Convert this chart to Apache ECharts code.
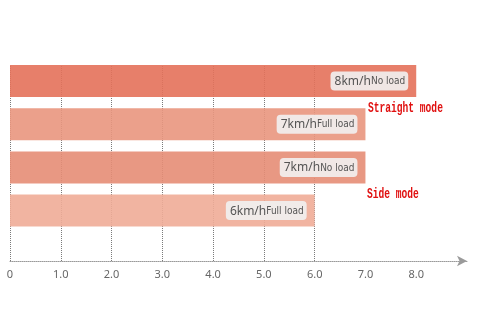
<!DOCTYPE html>
<html><head><meta charset="utf-8">
<script src="https://cdn.jsdelivr.net/npm/echarts@6/dist/echarts.min.js"></script>
<style>html,body{margin:0;padding:0;background:#fff}#c{width:480px;height:331px}</style>
</head><body><div id="c"></div>
<script>
const categories = ['8km/h No load', '7km/h Full load', '7km/h No load', '6km/h Full load'];
const speeds = [8, 7, 7, 6];
const speedLabels = ['8km/h', '7km/h', '7km/h', '6km/h'];
const loadLabels = ['No load', 'Full load', 'No load', 'Full load'];
const barColors = ['#e4715a', '#e9967e', '#e68d76', '#efac97'];
const gridValues = [0, 1, 2, 3, 4, 5, 6];
const modeLabels = ['Straight mode', 'Side mode'];

const chart = echarts.init(document.getElementById('c'), null, {renderer: 'canvas'});
chart.setOption({
  animation: false,
  grid: [
    {left: 10, right: 13, top: 65, bottom: 70},
    {left: 10, right: 13, top: 59.5, height: 172.7}
  ],
  xAxis: [
    {
      gridIndex: 0, type: 'value', min: 0, max: 9, interval: 1,
      axisLine: {show: true, symbol: ['none', 'arrow'], symbolSize: [8, 10], symbolOffset: [0, 0],
        lineStyle: {color: '#9a9a9a', type: 'dotted', width: 1}},
      axisTick: {show: false},
      splitLine: {show: false},
      axisLabel: {
        color: '#666', fontSize: 11, margin: 8, fontFamily: 'Noto Sans',
        formatter: v => v === 0 ? '0' : (v > 8 ? '' : v.toFixed(1))
      }
    },
    {
      gridIndex: 1, type: 'value', min: 0, max: 9,
      show: false, splitLine: {show: false}
    }
  ],
  yAxis: [
    {gridIndex: 0, type: 'value', min: 0, max: 1, show: false, splitLine: {show: false}},
    {gridIndex: 1, type: 'category', data: categories, inverse: true, show: false}
  ],
  series: [
    {
      type: 'line', xAxisIndex: 0, yAxisIndex: 0, data: [], z: 1, silent: true,
      markLine: {
        z: 1, silent: true, symbol: ['none', 'none'], label: {show: false},
        lineStyle: {color: '#7a7a7a', type: 'dotted', width: 1},
        emphasis: {disabled: true},
        data: gridValues.map(v => ({xAxis: v}))
      }
    },
    {
      type: 'bar', xAxisIndex: 1, yAxisIndex: 1, barWidth: 32, z: 3,
      data: speeds.map((v, i) => ({value: v, itemStyle: {color: barColors[i], opacity: 0.9}})),
      label: {
        show: true, position: 'insideRight', distance: 8,
        backgroundColor: '#f2f2f2', borderRadius: 4, padding: [2, 3, 1, 4],
        formatter: p => '{a|' + speedLabels[p.dataIndex] + '}{b|' + loadLabels[p.dataIndex] + '}',
        rich: {
          a: {fontSize: 12, color: '#444', fontFamily: 'Noto Sans', lineHeight: 16},
          b: {fontSize: 10, color: '#444', fontFamily: 'DejaVu Sans Condensed', lineHeight: 16}
        }
      }
    }
  ],
  graphic: [
    {type: 'text', x: 368, y: 101, scaleX: 0.8, scaleY: 1.25,
      style: {text: modeLabels[0], fill: '#e01010', font: 'bold 12px "Liberation Mono"'}},
    {type: 'text', x: 367, y: 187, scaleX: 0.8, scaleY: 1.25,
      style: {text: modeLabels[1], fill: '#e01010', font: 'bold 12px "Liberation Mono"'}}
  ]
});
</script></body></html>
